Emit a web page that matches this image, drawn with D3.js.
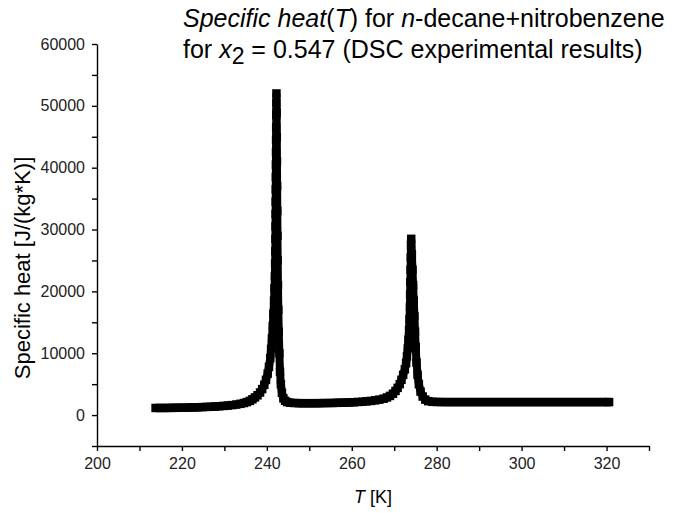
<!DOCTYPE html>
<html>
<head>
<meta charset="utf-8">
<script src="https://cdn.jsdelivr.net/npm/d3@7"></script>
<style>
  body { margin: 0; background: #fff; }
  svg { display: block; font-family: "Liberation Sans", Arial, sans-serif; }
  .axis path, .axis line { stroke: #000; stroke-width: 1.4; }
  .axis text { font-size: 16px; fill: #222; }
</style>
</head>
<body>
<div id="chart"></div>
<script>
// temperature [K] and specific heat [J/(kg*K)]
const temps = [
  213.8, 214.8, 215.8, 216.8, 217.8, 218.8, 219.8, 220.8, 221.8, 222.8,
  223.8, 224.8, 225.8, 226.8, 227.8, 228.8, 229.8, 230.8, 231.8, 232.8,
  233.8, 234.6, 235.3, 236.0, 236.6, 237.2, 237.8, 238.4, 238.9, 239.4,
  239.8, 240.2, 240.5, 240.8, 241.0, 241.2, 241.4, 241.55, 241.7, 241.8,
  241.9, 241.95, 242.0, 242.02, 242.04, 242.06, 242.08, 242.1, 242.12, 242.14,
  242.16, 242.18, 242.2, 242.22, 242.24, 242.26, 242.3, 242.34, 242.38, 242.42,
  242.46, 242.5, 242.55, 242.62, 242.7, 242.8, 242.95, 243.1, 243.3, 243.55,
  243.9, 244.3, 244.8, 245.5, 246.5, 247.5, 248.5, 249.5, 250.5, 251.5,
  252.5, 253.5, 254.5, 255.5, 256.5, 257.5, 258.5, 259.5, 260.5, 261.5,
  262.5, 263.5, 264.5, 265.5, 266.5, 267.5, 268.3, 269.0, 269.7, 270.3,
  270.8, 271.3, 271.7, 272.1, 272.5, 272.8, 273.0, 273.2, 273.35, 273.5,
  273.6, 273.7, 273.75, 273.8, 273.85, 273.9, 273.95, 274.0, 274.15, 274.3,
  274.45, 274.6, 274.75, 274.9, 275.05, 275.25, 275.5, 275.8, 276.2, 276.7,
  277.3, 278.0, 279.0, 280.0, 281.0, 282.0, 283.0, 284.0, 285.0, 286.0,
  287.0, 288.0, 289.0, 290.0, 291.0, 292.0, 293.0, 294.0, 295.0, 296.0,
  297.0, 298.0, 299.0, 300.0, 301.0, 302.0, 303.0, 304.0, 305.0, 306.0,
  307.0, 308.0, 309.0, 310.0, 311.0, 312.0, 313.0, 314.0, 315.0, 316.0,
  317.0, 318.0, 319.0, 320.0, 320.6
];
const heat = [
  1150, 1150, 1150, 1160, 1170, 1180, 1190, 1200, 1220, 1240,
  1260, 1290, 1320, 1350, 1390, 1430, 1480, 1540, 1610, 1700,
  1820, 1950, 2100, 2300, 2550, 2850, 3200, 3650, 4200, 4900,
  5700, 6700, 7800, 9200, 10700, 12400, 14400, 16400, 18500, 20500,
  22500, 24500, 26500, 28500, 30500, 32500, 34500, 36500, 38500, 40500,
  42500, 44500, 46500, 48500, 50500, 52000, 49000, 45000, 41000, 37000,
  33000, 29000, 25000, 21000, 17000, 13500, 10000, 7000, 5000, 3600,
  2700, 2300, 2100, 2000, 1950, 1930, 1920, 1920, 1920, 1920,
  1930, 1940, 1950, 1960, 1980, 2000, 2020, 2050, 2080, 2120,
  2160, 2220, 2290, 2380, 2500, 2650, 2850, 3100, 3450, 3900,
  4400, 5000, 5700, 6500, 7400, 8400, 9500, 10800, 12200, 13800,
  15500, 17500, 19500, 21500, 23500, 25500, 27500, 28500, 26000, 23500,
  21000, 18500, 16000, 13500, 11000, 8500, 6500, 5000, 3800, 3000,
  2500, 2250, 2150, 2120, 2110, 2100, 2100, 2100, 2100, 2100,
  2100, 2100, 2100, 2100, 2100, 2100, 2100, 2100, 2100, 2100,
  2100, 2100, 2100, 2100, 2100, 2100, 2100, 2100, 2100, 2100,
  2100, 2100, 2100, 2100, 2100, 2100, 2100, 2100, 2100, 2100,
  2100, 2100, 2100, 2100, 2100
];
const xTicks = [200, 210, 220, 230, 240, 250, 260, 270, 280, 290, 300, 310, 320, 330];
const yTicks = [-5000, 0, 5000, 10000, 15000, 20000, 25000, 30000, 35000, 40000, 45000, 50000, 55000, 60000];

const width = 680;
const height = 513;
const margin = { top: 44, right: 31, bottom: 67, left: 97 };

const svg = d3.select('#chart').append('svg')
  .attr('width', width)
  .attr('height', height);

const x = d3.scaleLinear().domain([200, 330]).range([margin.left, width - margin.right]);
const y = d3.scaleLinear().domain([-5000, 60000]).range([height - margin.bottom, margin.top]);

const points = temps.map((t, i) => ({ t: t, c: heat[i] }));

// axes
svg.append('g')
  .attr('class', 'axis')
  .attr('transform', `translate(0,${height - margin.bottom})`)
  .call(d3.axisBottom(x).tickValues(xTicks).tickSize(5).tickSizeOuter(0)
    .tickFormat(d => d % 20 === 0 && d <= 320 ? d : ''))
  .call(g => g.selectAll('text').attr('dy', '0.95em'));

svg.append('g')
  .attr('class', 'axis')
  .attr('transform', `translate(${margin.left},0)`)
  .call(d3.axisLeft(y).tickValues(yTicks).tickSize(5).tickSizeOuter(0)
    .tickFormat(d => d >= 0 && d % 10000 === 0 ? d : ''))
  .call(g => g.selectAll('text').attr('dx', '-0.25em'));

// the dense square markers merge into a thick band
const line = d3.line().x(d => x(d.t)).y(d => y(d.c));
svg.append('path')
  .datum(points)
  .attr('d', line)
  .attr('fill', 'none')
  .attr('stroke', '#000')
  .attr('stroke-width', 8)
  .attr('stroke-linejoin', 'bevel');

const size = 8.5;
svg.append('g').selectAll('rect')
  .data(points)
  .enter().append('rect')
  .attr('x', d => x(d.t) - size / 2)
  .attr('y', d => y(d.c) - size / 2)
  .attr('width', size)
  .attr('height', size)
  .attr('fill', '#000');

// titles
const title = svg.append('text')
  .attr('x', 183)
  .attr('y', 27)
  .attr('font-size', 25)
  .attr('fill', '#000');
title.append('tspan').attr('font-style', 'italic').text('Specific heat');
title.append('tspan').text('(');
title.append('tspan').attr('font-style', 'italic').text('T');
title.append('tspan').text(') for ');
title.append('tspan').attr('font-style', 'italic').text('n');
title.append('tspan').text('-decane+nitrobenzene');

const title2 = svg.append('text')
  .attr('x', 183)
  .attr('y', 58)
  .attr('font-size', 25)
  .attr('fill', '#000');
title2.append('tspan').text('for ');
title2.append('tspan').attr('font-style', 'italic').text('x');
title2.append('tspan').attr('dy', 6).attr('font-size', 23).text('2');
title2.append('tspan').attr('dy', -6).text(' = 0.547 (DSC experimental results)');

svg.append('text')
  .attr('x', (margin.left + width - margin.right) / 2)
  .attr('y', 503)
  .attr('text-anchor', 'middle')
  .attr('font-size', 18)
  .html('<tspan font-style="italic">T</tspan> [K]');

svg.append('text')
  .attr('transform', 'translate(30,268) rotate(-90)')
  .attr('text-anchor', 'middle')
  .attr('font-size', 22)
  .text('Specific heat [J/(kg*K)]');
</script>
</body>
</html>
